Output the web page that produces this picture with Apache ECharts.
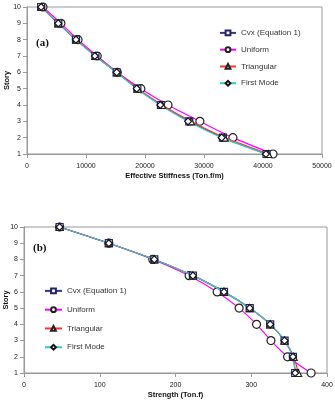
<!DOCTYPE html>
<html>
<head>
    <title>Story stiffness and strength</title>
    <script src="https://cdn.jsdelivr.net/npm/echarts/dist/echarts.min.js"></script>
</head>
<body style="margin:0">
    <div id="main" style="width: 335px;height:408px;"></div>
    <script type="text/javascript">
        var stories = [1, 2, 3, 4, 5, 6, 7, 8, 9, 10];
        var seriesNames = ['Cvx (Equation 1)', 'Uniform', 'Triangular', 'First Mode'];

        // (a) effective stiffness, Ton.f/m
        var stiffCvx = [40600, 33200, 27500, 22700, 18700, 15200, 11600, 8300, 5300, 2400];
        var stiffUniform = [41700, 34900, 29300, 23900, 19300, 15300, 11900, 8650, 5750, 2700];
        var stiffTriangular = [40900, 33500, 27800, 22900, 18800, 15250, 11600, 8350, 5350, 2450];
        var stiffFirstMode = [40500, 33000, 27300, 22600, 18600, 15200, 11500, 8300, 5300, 2400];

        // (b) strength, Ton.f
        var strCvx = [358, 355, 344, 325, 298, 264, 223, 172, 112, 47];
        var strUniform = [379, 348, 326, 307, 284, 255, 218, 170, 112, 47];
        var strTriangular = [362, 356, 344, 325, 298, 264, 223, 172, 112, 47];
        var strFirstMode = [358, 355, 344, 325, 298, 264, 223, 172, 112, 47];

        var lineColors = ['#333399', '#ff00ff', '#ff3333', '#33cccc'];
        var symbols = ['rect', 'circle', 'triangle', 'diamond'];
        var symbolSizes = [7, 8, 7, 7];
        var edge = ['#222266', '#222222', '#222222', '#111111'];

        function pairs(xs) {
            return xs.map(function (v, i) { return [v, stories[i]]; });
        }

        function makeSeries(name, k, values, idx) {
            return {
                name: name,
                type: 'line',
                xAxisIndex: idx,
                yAxisIndex: idx,
                data: pairs(values),
                smooth: 0.25,
                symbol: symbols[k],
                symbolSize: symbolSizes[k],
                lineStyle: { color: lineColors[k], width: 1.2 },
                itemStyle: { color: '#fff', borderColor: edge[k], borderWidth: 1.2 },
                z: 2 + (k === 1 ? 0 : 1)
            };
        }

        var topSets = [stiffCvx, stiffUniform, stiffTriangular, stiffFirstMode];
        var botSets = [strCvx, strUniform, strTriangular, strFirstMode];
        var series = [];
        topSets.forEach(function (s, k) { series.push(makeSeries(seriesNames[k], k, s, 0)); });
        botSets.forEach(function (s, k) { series.push(makeSeries(seriesNames[k], k, s, 1)); });

        var axisGray = { lineStyle: { color: '#999', width: 1 } };
        var labelStyle = { color: '#222', fontSize: 7, fontFamily: 'Liberation Sans' };
        var nameStyle = { color: '#111', fontSize: 7.5, fontWeight: 'bold', fontFamily: 'Liberation Sans' };

        function xAxis(idx, max, interval, name) {
            return {
                gridIndex: idx, type: 'value', min: 0, max: max, interval: interval,
                name: name, nameLocation: 'middle', nameGap: 15, nameTextStyle: nameStyle,
                nameMoveOverlap: false,
                axisLine: axisGray, axisTick: { show: true, length: 4, lineStyle: { color: '#999' } },
                axisLabel: Object.assign({ margin: 6, formatter: function (v) { return String(v); } }, labelStyle),
                splitLine: { show: false }
            };
        }
        function yAxis(idx, gap) {
            return {
                gridIndex: idx, type: 'value', min: 1, max: 10, interval: 1,
                name: 'Story', nameLocation: 'middle', nameGap: gap, nameTextStyle: nameStyle,
                nameMoveOverlap: false,
                axisLine: axisGray, axisTick: { show: true, length: 4, lineStyle: { color: '#999' } },
                axisLabel: Object.assign({ margin: 6 }, labelStyle), splitLine: { show: false }
            };
        }

        var legendText = { color: '#333', fontSize: 8, fontFamily: 'Liberation Sans' };

        var myChart = echarts.init(document.getElementById('main'));
        var option = {
            animation: false,
            backgroundColor: '#fff',
            grid: [
                { left: 27, top: 7, right: 13, height: 147, show: true, borderColor: '#999', borderWidth: 1,
                  backgroundColor: 'transparent', outerBoundsMode: 'none' },
                { left: 24, top: 227, right: 8, height: 146, show: true, borderColor: '#999', borderWidth: 1,
                  backgroundColor: 'transparent', outerBoundsMode: 'none' }
            ],
            xAxis: [
                xAxis(0, 50000, 10000, 'Effective Stiffness (Ton.f/m)'),
                xAxis(1, 400, 100, 'Strength (Ton.f)')
            ],
            yAxis: [yAxis(0, 14), yAxis(1, 12)],
            legend: [
                { left: 219, top: 26, orient: 'vertical', padding: 0, itemGap: 3, itemWidth: 16, itemHeight: 6,
                  data: seriesNames, textStyle: legendText },
                { left: 44, top: 284, orient: 'vertical', padding: 0, itemGap: 5, itemWidth: 17, itemHeight: 6,
                  data: seriesNames, textStyle: legendText }
            ],
            graphic: [
                { type: 'text', left: 36, top: 34, style: { text: '(a)', font: 'bold 11px "Liberation Serif"', fill: '#111' } },
                { type: 'text', left: 33, top: 239, style: { text: '(b)', font: 'bold 11px "Liberation Serif"', fill: '#111' } }
            ],
            series: series
        };
        myChart.setOption(option);
    </script>
</body>
</html>
